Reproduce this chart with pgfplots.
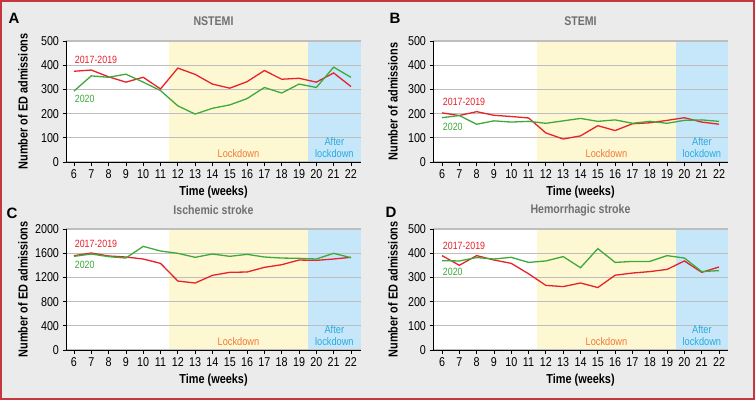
\documentclass[border=0pt]{standalone}
\usepackage{fontspec}
\setmainfont{Liberation Sans}[FakeStretch=0.84]
\newfontfamily\letterfont{Liberation Sans}
\usepackage{pgfplots}
\pgfplotsset{compat=1.18}
\definecolor{bggray}{HTML}{EBEBEB}
\definecolor{bordred}{HTML}{C7363C}
\definecolor{lred}{HTML}{E8212B}
\definecolor{lgreen}{HTML}{3DAA3A}
\definecolor{lockyellow}{HTML}{FEF8D2}
\definecolor{afterblue}{HTML}{C5E7F9}
\definecolor{lockorange}{HTML}{F07A3A}
\definecolor{aftertext}{HTML}{2AA9E0}
\definecolor{titlegray}{HTML}{707070}
\definecolor{gridgray}{HTML}{BEBEBE}
\pagecolor{bggray}

\pgfplotstableread{
w nr ng br bg cr cg dr dg
6  375 293 203 183 1559 1548 390 369
7  380 356 192 192 1603 1587 350 368
8  352 350 208 156 1554 1543 390 382
9  330 363 193 170 1537 1520 372 376
10 350 330 188 165 1504 1713 358 383
11 302 295 182 168 1432 1636 315 362
12 388 232 120 160 1140 1598 267 368
13 362 198 95  170 1107 1532 262 386
14 322 222 108 180 1234 1587 277 340
15 305 236 150 168 1284 1548 258 419
16 332 262 130 174 1289 1581 309 362
17 378 308 158 160 1366 1537 318 366
18 342 285 162 168 1410 1520 324 366
19 346 322 172 160 1487 1515 333 390
20 330 308 183 172 1482 1504 368 380
21 368 392 165 174 1504 1598 321 324
22 312 350 156 168 1532 1526 343 328
}\datatable

\pgfplotsset{
  set layers,
  panel/.style={
    scale only axis, width=295pt, height=121pt,
    anchor=south west,
    ymin=0,
    axis lines=left,
    axis line style={-, black, line width=1pt},
    xtick={6,...,22},
    tick align=outside,
    major tick length=3.5pt,
    tick style={black, line width=0.8pt},
    ymajorgrids,
    major grid style={gridgray, line width=1.3pt},
    /pgf/number format/assume math mode=true,
    /pgf/number format/1000 sep={},
    tick label style={font=\fontsize{12.8}{13}\selectfont, black},
    xticklabel style={yshift=-1pt},
    label style={font=\fontsize{13}{14}\selectfont\bfseries, black},
    xlabel={Time (weeks)},
    xlabel style={at={([yshift=-30pt]axis description cs:0.5,0)}, anchor=center},
    title style={font=\fontsize{12.6}{14}\selectfont\bfseries, text=titlegray, anchor=center},
    every axis plot/.append style={line width=1.3pt, mark=none},
  },
}

\newcommand{\bands}[1]{%
  \begin{pgfonlayer}{axis background}
    \fill[white] (rel axis cs:0,0) rectangle (axis cs:11.5,#1);
    \fill[lockyellow] (axis cs:11.5,0) rectangle (axis cs:19.5,#1);
    \fill[afterblue] (axis cs:19.5,0) rectangle (rel axis cs:1,1);
  \end{pgfonlayer}}

\newcommand{\bandtext}[3]{%
  \node[text=lockorange, font=\fontsize{11}{12}\selectfont] at (axis cs:15.5,#1) {Lockdown};
  \node[text=aftertext, font=\fontsize{11}{11.5}\selectfont, align=center, anchor=south] at (axis cs:#3,#2) {After\\lockdown};}

\begin{document}
\begin{tikzpicture}
\path (0pt,0pt) rectangle (755pt,400pt);
\draw[bordred, line width=2pt] (1pt,1pt) rectangle (754pt,399pt);

\node[font=\letterfont\fontsize{15}{16}\selectfont\bfseries] at (14pt,382pt) {A};
\node[font=\letterfont\fontsize{15}{16}\selectfont\bfseries] at (395pt,382pt) {B};
\node[font=\letterfont\fontsize{15}{16}\selectfont\bfseries] at (12pt,187pt) {C};
\node[font=\letterfont\fontsize{15}{16}\selectfont\bfseries] at (391pt,188pt) {D};

% A
\begin{axis}[panel, at={(66pt,238pt)}, xmin=5.54, xmax=22.58, ymax=500,
  ytick={0,100,...,500},
  ylabel={Number of ED admissions},
  ylabel style={at={([xshift=-43pt]axis description cs:0,0.5)}, anchor=center},
  title={NSTEMI}, title style={at={([yshift=14pt]axis description cs:0.5,1)}}]
\bands{500}
\addplot[lred] table[x=w, y=nr] {\datatable};
\addplot[lgreen] table[x=w, y=ng] {\datatable};
\node[text=lred, anchor=west, font=\fontsize{10.5}{11}\selectfont] at (axis cs:5.85,422) {2017-2019};
\node[text=lgreen, anchor=west, font=\fontsize{10.5}{11}\selectfont] at (axis cs:5.85,260) {2020};
\bandtext{33}{4}{21.04}
\end{axis}

% B
\begin{axis}[panel, at={(433pt,238pt)}, xmin=5.48, xmax=22.52, ymax=500,
  ytick={0,100,...,500},
  ylabel={Number of admissions},
  ylabel style={at={([xshift=-40pt]axis description cs:0,0.5)}, anchor=center},
  title={STEMI}, title style={at={([yshift=14pt]axis description cs:0.5,1)}}]
\bands{500}
\addplot[lred] table[x=w, y=br] {\datatable};
\addplot[lgreen] table[x=w, y=bg] {\datatable};
\node[text=lred, anchor=west, font=\fontsize{10.5}{11}\selectfont] at (axis cs:5.85,248) {2017-2019};
\node[text=lgreen, anchor=west, font=\fontsize{10.5}{11}\selectfont] at (axis cs:5.85,145) {2020};
\bandtext{33}{4}{21.01}
\end{axis}

% C
\begin{axis}[panel, at={(66pt,50pt)}, xmin=5.54, xmax=22.58, ymax=2000,
  ytick={0,400,...,2000},
  ylabel={Number of ED admissions},
  ylabel style={at={([xshift=-43pt]axis description cs:0,0.5)}, anchor=center},
  title={Ischemic stroke}, title style={at={([yshift=13pt]axis description cs:0.5,1)}}]
\bands{2000}
\addplot[lred] table[x=w, y=cr] {\datatable};
\addplot[lgreen] table[x=w, y=cg] {\datatable};
\node[text=lred, anchor=west, font=\fontsize{10.5}{11}\selectfont] at (axis cs:5.85,1752) {2017-2019};
\node[text=lgreen, anchor=west, font=\fontsize{10.5}{11}\selectfont] at (axis cs:5.85,1405) {2020};
\bandtext{132}{16}{21.04}
\end{axis}

% D
\begin{axis}[panel, at={(433pt,50pt)}, xmin=5.48, xmax=22.52, ymax=500,
  ytick={0,100,...,500},
  ylabel={Number of ED admissions},
  ylabel style={at={([xshift=-40pt]axis description cs:0,0.5)}, anchor=center},
  title={Hemorrhagic stroke}, title style={at={([yshift=13pt]axis description cs:0.5,1)}}]
\bands{500}
\addplot[lred] table[x=w, y=dr] {\datatable};
\addplot[lgreen] table[x=w, y=dg] {\datatable};
\node[text=lred, anchor=west, font=\fontsize{10.5}{11}\selectfont] at (axis cs:5.85,430) {2017-2019};
\node[text=lgreen, anchor=west, font=\fontsize{10.5}{11}\selectfont] at (axis cs:5.85,322) {2020};
\bandtext{33}{4}{21.01}
\end{axis}
\end{tikzpicture}
\end{document}
